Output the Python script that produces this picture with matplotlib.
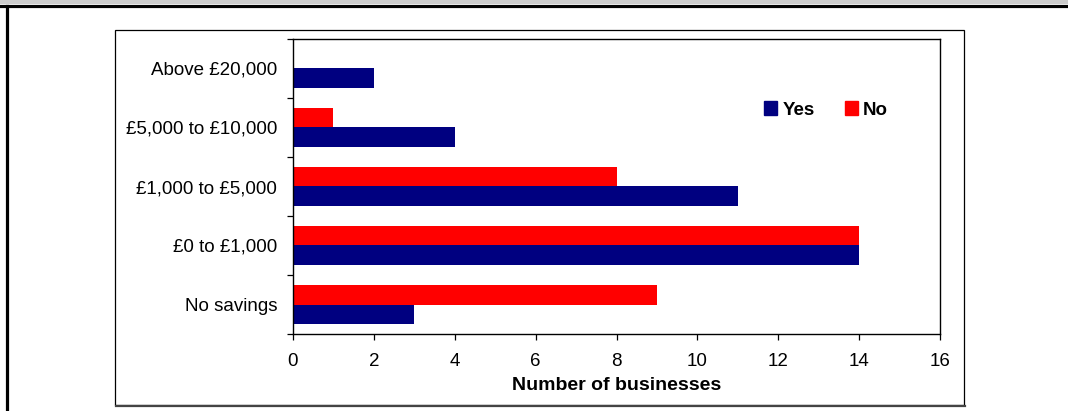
import matplotlib
matplotlib.use("Agg")
import matplotlib.pyplot as plt
from matplotlib.patches import Rectangle, Patch
from matplotlib.lines import Line2D
import numpy as np

plt.rcParams['font.family'] = ['Liberation Sans', 'DejaVu Sans']

categories = ["No savings", "£0 to £1,000", "£1,000 to £5,000",
              "£5,000 to £10,000", "Above £20,000"]
yes_counts = [3, 14, 11, 4, 2]
no_counts = [9, 14, 8, 1, 0]
x_ticks = [0, 2, 4, 6, 8, 10, 12, 14, 16]

W, H = 1068, 411
fig = plt.figure(figsize=(W / 100, H / 100), dpi=100)

# grey strip and heavy border of the surrounding page box
fig.patches.append(Rectangle((0, 1 - 4.5 / H), 1, 4.5 / H, transform=fig.transFigure,
                             facecolor="#cbcbcb", edgecolor="none"))
fig.lines.append(Line2D([0, 1], [1 - 6.5 / H] * 2, transform=fig.transFigure,
                        color="black", lw=2.3))
fig.lines.append(Line2D([6.5 / W] * 2, [0, 1 - 6.5 / H], transform=fig.transFigure,
                        color="black", lw=2.3))

# chart area frame
fig.patches.append(Rectangle((115 / W, 1 - 405 / H), (964 - 115) / W, (405 - 30) / H,
                             transform=fig.transFigure, facecolor="none",
                             edgecolor="black", lw=0.9))
fig.lines.append(Line2D([116 / W, 965 / W], [1 - 405.5 / H] * 2, transform=fig.transFigure,
                        color="#444444", lw=1.6))

ax = fig.add_axes([293 / W, 1 - 334 / H, (940 - 293) / W, (334 - 39) / H])

y = np.arange(len(categories))
h = 0.33
ax.barh(y - h / 2, yes_counts, height=h, color="#000080", label="Yes")
ax.barh(y + h / 2, no_counts, height=h, color="#FF0000", label="No")

ax.set_xlim(0, 16)
ax.set_ylim(-0.5, len(categories) - 0.5)
ax.set_xticks(x_ticks)
ax.set_xticklabels([str(t) for t in x_ticks], fontsize=13.5)
ax.set_yticks(y)
ax.set_yticklabels(categories, fontsize=13.5)
ax.set_yticks(np.arange(len(categories) + 1) - 0.5, minor=True)
ax.tick_params(axis="y", which="major", length=0, pad=11.5)
ax.tick_params(axis="y", which="minor", length=4, width=0.9, direction="out")
ax.tick_params(axis="x", length=4, width=0.9, direction="out", pad=10)
for s in ax.spines.values():
    s.set_linewidth(1.0)
    s.set_color("black")

ax.set_xlabel("Number of businesses", fontsize=14, fontweight="bold", labelpad=5)

leg = ax.legend(handles=[Patch(color="#000080", label="Yes"), Patch(color="#FF0000", label="No")],
                loc="upper left", bbox_to_anchor=((756 - 293) / (940 - 293), 1 - (94 - 39) / (334 - 39)),
                ncol=2, frameon=False, handlelength=0.7, handleheight=0.7,
                handletextpad=0.3, columnspacing=1.6, borderaxespad=0,
                prop={"weight": "bold", "size": 13.5})

fig.savefig("out.png", dpi=100)
